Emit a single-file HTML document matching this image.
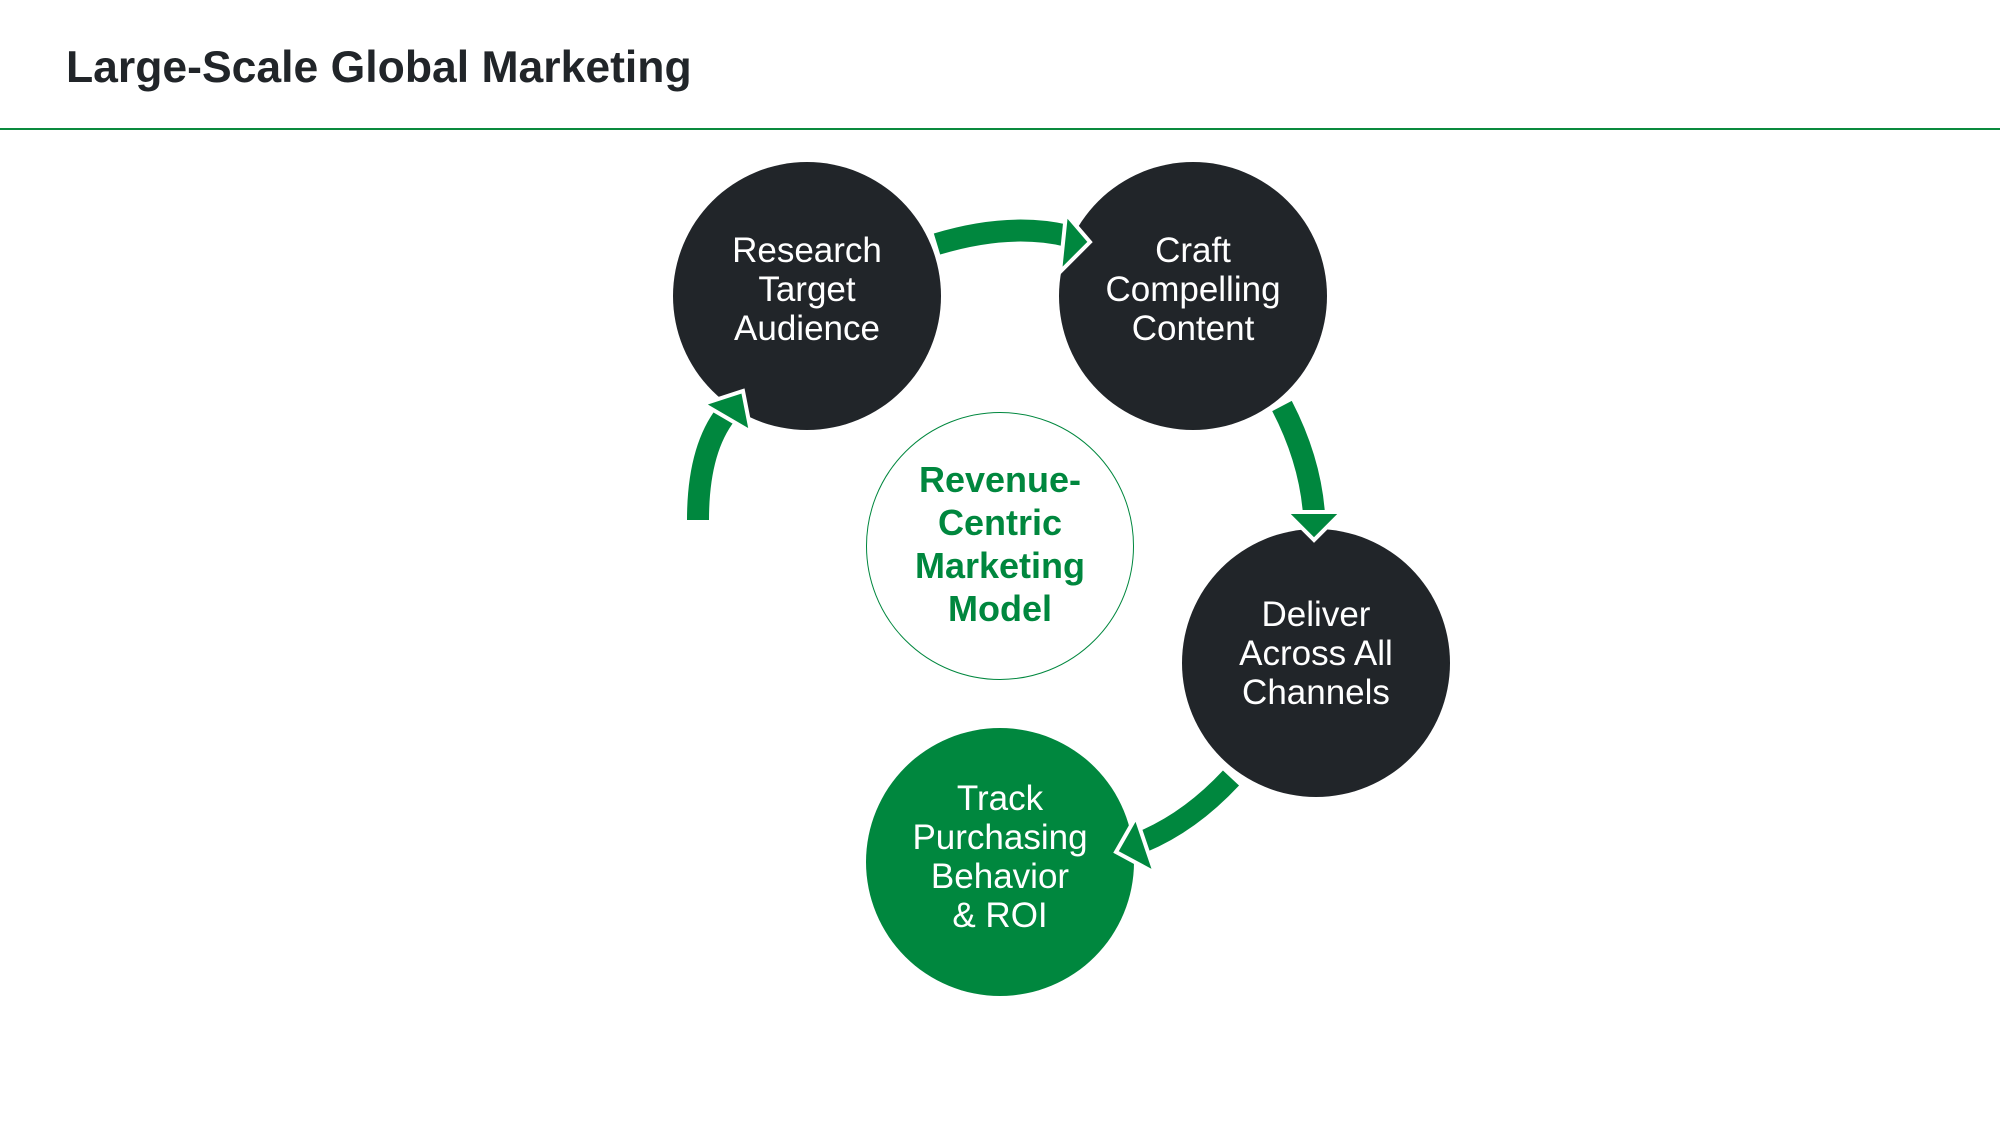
<!DOCTYPE html>
<html><head><meta charset="utf-8"><style>
html,body{margin:0;padding:0;background:#fff;}
body{width:2000px;height:1125px;position:relative;overflow:hidden;font-family:"Liberation Sans",sans-serif;}
.title{position:absolute;left:66px;top:43px;font-size:44.5px;font-weight:bold;color:#212529;}
.line{position:absolute;left:0;top:128px;width:2000px;height:2px;background:#0a8a3e;}
.c{position:absolute;width:268px;height:268px;border-radius:50%;display:flex;align-items:center;justify-content:center;text-align:center;color:#fff;font-size:35px;line-height:39px;}
.d{background:#212529;}
.g{background:#00873e;}
.o{border:1.5px solid #00873e;box-sizing:border-box;color:#00873e;font-weight:bold;font-size:36px;line-height:43px;background:#fff;}
</style></head><body>
<div class="title">Large-Scale Global Marketing</div>
<div class="line"></div>
<div class="c d" style="left:673px;top:162px;"><div style="margin-top:-14px">Research<br>Target<br>Audience</div></div>
<div class="c d" style="left:1059px;top:162px;"><div style="margin-top:-14px">Craft<br>Compelling<br>Content</div></div>
<div class="c d" style="left:1182px;top:529px;"><div style="margin-top:-20px">Deliver<br>Across All<br>Channels</div></div>
<div class="c g" style="left:866px;top:728px;"><div style="margin-top:-10px">Track<br>Purchasing<br>Behavior<br>&amp; ROI</div></div>
<div class="c o" style="left:866px;top:412px;"><div style="margin-top:-4px">Revenue-<br>Centric<br>Marketing<br>Model</div></div>
<svg width="2000" height="1125" style="position:absolute;left:0;top:0" xmlns="http://www.w3.org/2000/svg">
<g fill="none" stroke="#00873e" stroke-width="22">
<path d="M937,244 Q1010,222 1068,236"/>
<path d="M1282,406 Q1310,460 1314,514"/>
<path d="M1231,778 Q1190,822 1142,842"/>
<path d="M698,520 Q698,450 726,414"/>
</g>
<g fill="#00873e" stroke="#fff" stroke-width="4" stroke-linejoin="miter">
<polygon points="1090,242 1060,272 1066,214"/>
<polygon points="1314,540 1286,512 1342,512"/>
<polygon points="1116,852 1136,817 1155,873"/>
<polygon points="743,391 751,432 703,404"/>
</g>
</svg>
</body></html>
